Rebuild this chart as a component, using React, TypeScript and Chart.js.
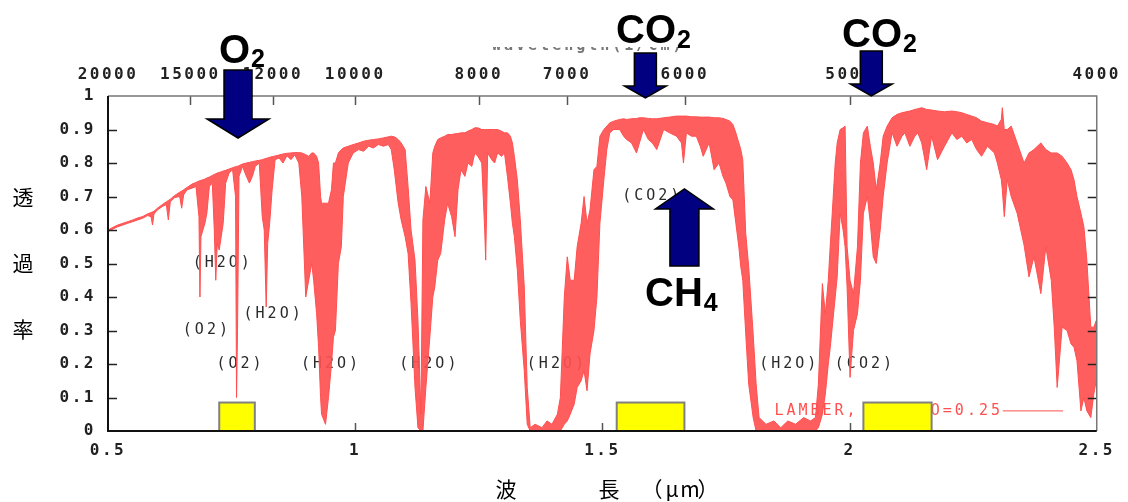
import React, { useEffect, useRef } from "react";
import { Chart, registerables } from "chart.js";

Chart.register(...registerables);

// ---- data (wavelength in µm, transmittance upper / lower envelope of the dense line spectrum) ----
const wavelength = [
  0.500, 0.510, 0.520, 0.530, 0.540, 0.550, 0.560, 0.570, 0.580, 0.587, 0.590, 0.593, 0.600, 0.610, 0.618, 0.622,
  0.626, 0.635, 0.645, 0.649, 0.653, 0.660, 0.670, 0.678, 0.684, 0.686, 0.688, 0.692, 0.696, 0.700, 0.705, 0.711,
  0.715, 0.718, 0.721, 0.725, 0.729, 0.733, 0.738, 0.745, 0.752, 0.758, 0.760, 0.762, 0.765, 0.772, 0.780, 0.786,
  0.792, 0.798, 0.806, 0.812, 0.816, 0.820, 0.823, 0.827, 0.832, 0.838, 0.846, 0.854, 0.862, 0.870, 0.878, 0.886,
  0.892, 0.900, 0.906, 0.912, 0.916, 0.922, 0.926, 0.930, 0.932, 0.940, 0.946, 0.952, 0.956, 0.960, 0.966, 0.972,
  0.976, 0.986,
  0.996, 1.007, 1.017, 1.027, 1.037, 1.047, 1.057, 1.067, 1.073, 1.079, 1.083, 1.087, 1.093, 1.101, 1.107, 1.113,
  1.121, 1.127, 1.133, 1.137, 1.143, 1.151, 1.157, 1.161, 1.167, 1.173, 1.181, 1.187, 1.195, 1.202, 1.208, 1.214,
  1.222, 1.228, 1.236, 1.242, 1.248, 1.256, 1.262, 1.264, 1.268, 1.276, 1.282, 1.288, 1.296, 1.302, 1.308, 1.314,
  1.318, 1.322, 1.328, 1.334, 1.342, 1.348, 1.354, 1.364, 1.378, 1.388, 1.398, 1.409, 1.415, 1.423, 1.429, 1.435,
  1.443, 1.449, 1.457, 1.463, 1.469, 1.475, 1.483, 1.489, 1.495, 1.503, 1.509, 1.515,
  1.523, 1.535, 1.543, 1.549, 1.559, 1.569, 1.575, 1.583, 1.593, 1.601, 1.610, 1.624, 1.636, 1.650, 1.660, 1.664,
  1.670, 1.680, 1.690, 1.698, 1.704, 1.716, 1.726, 1.736, 1.744, 1.750, 1.758, 1.764, 1.770, 1.776, 1.780, 1.784,
  1.790, 1.796, 1.805, 1.811, 1.817, 1.831, 1.847, 1.861, 1.875, 1.891, 1.907, 1.921, 1.931, 1.937, 1.945, 1.951,
  1.957, 1.961, 1.965, 1.971, 1.975, 1.981, 1.987, 1.991, 1.995, 2.001, 2.008, 2.016, 2.022, 2.028, 2.036, 2.042,
  2.048, 2.054, 2.062, 2.068, 2.076,
  2.086, 2.096, 2.106, 2.112, 2.122, 2.132, 2.138, 2.146, 2.156, 2.166, 2.178, 2.192, 2.207, 2.217, 2.227, 2.237,
  2.247, 2.257, 2.267, 2.279, 2.293, 2.299, 2.307, 2.309, 2.313, 2.319, 2.327, 2.339, 2.353, 2.363, 2.373, 2.387,
  2.397, 2.408, 2.414, 2.420, 2.430, 2.440, 2.448, 2.454, 2.460, 2.468, 2.474, 2.480, 2.488, 2.494, 2.499,
];

const upperT = [
  0.600, 0.608, 0.615, 0.620, 0.625, 0.630, 0.636, 0.640, 0.648, 0.652, 0.654, 0.656, 0.665, 0.676, 0.684, 0.688,
  0.692, 0.703, 0.713, 0.716, 0.720, 0.727, 0.737, 0.742, 0.746, 0.747, 0.748, 0.750, 0.752, 0.755, 0.758, 0.763,
  0.766, 0.768, 0.770, 0.772, 0.774, 0.776, 0.778, 0.782, 0.786, 0.789, 0.790, 0.790, 0.792, 0.797, 0.800, 0.802,
  0.804, 0.806, 0.808, 0.810, 0.812, 0.814, 0.815, 0.817, 0.819, 0.821, 0.824, 0.827, 0.829, 0.830, 0.831, 0.831,
  0.830, 0.825, 0.820, 0.830, 0.830, 0.820, 0.800, 0.700, 0.680, 0.680, 0.680, 0.720, 0.800, 0.800, 0.830, 0.840,
  0.845, 0.850,
  0.855, 0.860, 0.865, 0.868, 0.870, 0.872, 0.875, 0.878, 0.880, 0.878, 0.875, 0.870, 0.860, 0.840, 0.730, 0.600,
  0.510, 0.330, 0.050, 0.630, 0.730, 0.680, 0.830, 0.850, 0.870, 0.875, 0.880, 0.885, 0.885, 0.887, 0.888, 0.890,
  0.890, 0.895, 0.900, 0.905, 0.905, 0.900, 0.900, 0.900, 0.900, 0.900, 0.900, 0.900, 0.895, 0.890, 0.890, 0.880,
  0.860, 0.820, 0.750, 0.630, 0.430, 0.130, 0.010, 0.020, 0.010, 0.030, 0.020, 0.050, 0.100, 0.400, 0.520, 0.450,
  0.450, 0.550, 0.620, 0.700, 0.620, 0.660, 0.780, 0.790, 0.880, 0.900, 0.910, 0.920,
  0.925, 0.930, 0.932, 0.930, 0.932, 0.933, 0.935, 0.935, 0.933, 0.932, 0.932, 0.935, 0.937, 0.940, 0.940, 0.940,
  0.940, 0.938, 0.938, 0.937, 0.937, 0.937, 0.935, 0.935, 0.933, 0.930, 0.925, 0.915, 0.890, 0.860, 0.840, 0.810,
  0.590, 0.490, 0.290, 0.140, 0.040, 0.020, 0.030, 0.010, 0.030, 0.020, 0.040, 0.030, 0.040, 0.140, 0.440, 0.350,
  0.450, 0.555, 0.650, 0.800, 0.860, 0.900, 0.905, 0.910, 0.550, 0.450, 0.410, 0.550, 0.800, 0.890, 0.910, 0.850,
  0.800, 0.720, 0.800, 0.880, 0.910,
  0.935, 0.945, 0.950, 0.952, 0.955, 0.960, 0.962, 0.965, 0.960, 0.958, 0.955, 0.953, 0.955, 0.953, 0.950, 0.945,
  0.940, 0.935, 0.925, 0.920, 0.915, 0.910, 0.930, 0.965, 0.900, 0.900, 0.910, 0.860, 0.800, 0.830, 0.840, 0.860,
  0.840, 0.830, 0.830, 0.830, 0.820, 0.800, 0.780, 0.750, 0.700, 0.650, 0.610, 0.510, 0.310, 0.310, 0.330,
];

const lowerT = [
  0.595, 0.603, 0.610, 0.615, 0.620, 0.625, 0.630, 0.635, 0.643, 0.640, 0.615, 0.648, 0.660, 0.670, 0.676, 0.630,
  0.684, 0.697, 0.700, 0.665, 0.705, 0.720, 0.725, 0.730, 0.640, 0.400, 0.580, 0.600, 0.620, 0.650, 0.730, 0.740,
  0.600, 0.450, 0.560, 0.540, 0.580, 0.620, 0.740, 0.770, 0.780, 0.700, 0.100, 0.300, 0.760, 0.790, 0.760, 0.740,
  0.760, 0.790, 0.800, 0.640, 0.600, 0.370, 0.560, 0.620, 0.720, 0.810, 0.815, 0.800, 0.822, 0.810, 0.824, 0.800,
  0.700, 0.400, 0.450, 0.500, 0.450, 0.350, 0.250, 0.100, 0.050, 0.020, 0.100, 0.200, 0.280, 0.300, 0.500, 0.550,
  0.700, 0.800,
  0.830, 0.840, 0.835, 0.850, 0.845, 0.855, 0.850, 0.855, 0.840, 0.780, 0.730, 0.680, 0.630, 0.580, 0.530, 0.380,
  0.130, 0.010, 0.000, 0.000, 0.130, 0.280, 0.400, 0.430, 0.510, 0.530, 0.630, 0.680, 0.640, 0.580, 0.720, 0.780,
  0.760, 0.800, 0.790, 0.830, 0.820, 0.800, 0.600, 0.510, 0.830, 0.810, 0.800, 0.830, 0.820, 0.830, 0.760, 0.680,
  0.620, 0.580, 0.480, 0.330, 0.180, 0.020, 0.000, 0.000, 0.000, 0.000, 0.000, 0.000, 0.000, 0.020, 0.030, 0.050,
  0.080, 0.130, 0.150, 0.180, 0.120, 0.230, 0.300, 0.400, 0.620, 0.750, 0.840, 0.890,
  0.900, 0.900, 0.880, 0.870, 0.860, 0.830, 0.860, 0.900, 0.870, 0.860, 0.840, 0.900, 0.890, 0.880, 0.860, 0.800,
  0.890, 0.880, 0.880, 0.850, 0.820, 0.860, 0.780, 0.800, 0.760, 0.740, 0.700, 0.690, 0.620, 0.550, 0.490, 0.450,
  0.290, 0.140, 0.040, 0.000, 0.000, 0.000, 0.000, 0.000, 0.000, 0.000, 0.000, 0.000, 0.000, 0.010, 0.050, 0.110,
  0.200, 0.250, 0.310, 0.400, 0.460, 0.650, 0.600, 0.550, 0.430, 0.160, 0.300, 0.350, 0.450, 0.650, 0.700, 0.620,
  0.520, 0.500, 0.600, 0.700, 0.800,
  0.890, 0.850, 0.880, 0.890, 0.850, 0.880, 0.890, 0.860, 0.780, 0.880, 0.810, 0.850, 0.890, 0.870, 0.880, 0.860,
  0.870, 0.840, 0.820, 0.850, 0.830, 0.800, 0.750, 0.720, 0.640, 0.750, 0.700, 0.650, 0.555, 0.460, 0.520, 0.410,
  0.550, 0.450, 0.310, 0.130, 0.310, 0.300, 0.260, 0.250, 0.210, 0.060, 0.100, 0.060, 0.040, 0.110, 0.150,
];

const xTicks = [0.5, 1, 1.5, 2, 2.5];
const xTickLabels = ["0.5", "1", "1.5", "2", "2.5"];
const yTicks = [0, 0.1, 0.2, 0.3, 0.4, 0.5, 0.6, 0.7, 0.8, 0.9, 1];
const yTickLabels = ["0", "0.1", "0.2", "0.3", "0.4", "0.5", "0.6", "0.7", "0.8", "0.9", "1"];
const wavenumberTicks = [20000, 15000, 12000, 10000, 8000, 7000, 6000, 5000, 4000];

// observation bands (yellow boxes)
const bandStart = [0.725, 1.529, 2.028];
const bandEnd = [0.797, 1.666, 2.166];
const bandTop = [0.085, 0.085, 0.085];

// absorber annotations inside the plot
const gasLabels = ["(H2O)", "(H2O)", "(O2)", "(O2)", "(H2O)", "(H2O)", "(H2O)", "(CO2)", "(H2O)", "(CO2)"];
const gasLabelX = [0.729, 0.832, 0.697, 0.765, 0.948, 1.147, 1.405, 1.598, 1.875, 2.028];
const gasLabelY = [0.5, 0.35, 0.3, 0.2, 0.2, 0.2, 0.2, 0.7, 0.2, 0.2];

const legendText = "LAMBER, ALBEDO=0.25";
const topAxisTitle = "wavelength(1/cm)";

const RED = "#ff5050";
const RED_FILL = "rgba(255, 80, 80, 0.92)";
const NAVY = "#000080";
const MONO = "'DejaVu Sans Mono', 'Liberation Mono', monospace";
const CJK = "'Noto Sans CJK JP', 'Noto Sans CJK SC', sans-serif";
const SANS = "'Liberation Sans', Arial, sans-serif";

// big arrows: x = wavelength, vertical geometry in canvas pixels
const arrows = [
  { gas: "O", sub: "2", x: 0.763, tail: 70, headBase: 119, tip: 138, shaft: 14, head: 31, textX: 219, textY: 63, subDy: 4 },
  { gas: "CO", sub: "2", x: 1.587, tail: 53, headBase: 86, tip: 98, shaft: 11, head: 21, textX: 616, textY: 43, subDy: 5 },
  { gas: "CO", sub: "2", x: 2.044, tail: 51, headBase: 84, tip: 96, shaft: 11, head: 21, textX: 842, textY: 47, subDy: 5 },
  { gas: "CH", sub: "4", x: 1.666, tail: 266, headBase: 209, tip: 189, shaft: 14.5, head: 29, textX: 645, textY: 306, subDy: 5 },
];

function drawArrow(ctx: CanvasRenderingContext2D, cx: number, a: any) {
  ctx.beginPath();
  ctx.moveTo(cx - a.shaft, a.tail);
  ctx.lineTo(cx + a.shaft, a.tail);
  ctx.lineTo(cx + a.shaft, a.headBase);
  ctx.lineTo(cx + a.head, a.headBase);
  ctx.lineTo(cx, a.tip);
  ctx.lineTo(cx - a.head, a.headBase);
  ctx.lineTo(cx - a.shaft, a.headBase);
  ctx.closePath();
  ctx.fillStyle = NAVY;
  ctx.fill();
  ctx.lineWidth = 1.5;
  ctx.strokeStyle = "#000";
  ctx.stroke();
}

export default function App() {
  const ref = useRef<HTMLCanvasElement>(null);

  useEffect(() => {
    const canvas = ref.current;
    if (!canvas) return;

    const lowerPts = wavelength.map((x, i) => ({ x, y: lowerT[i] }));
    const upperPts = wavelength.map((x, i) => ({ x, y: upperT[i] }));

    const decor = {
      id: "decor",
      beforeDraw(chart: any) {
        chart.ctx.letterSpacing = "2.5px";
      },
      beforeDatasetsDraw(chart: any) {
        const { ctx, scales } = chart;
        ctx.save();
        ctx.letterSpacing = "3px";
        ctx.font = `15px ${MONO}`;
        ctx.textAlign = "center";
        ctx.textBaseline = "middle";
        ctx.fillStyle = "#2a2a2a";
        gasLabels.forEach((t, i) => {
          ctx.fillText(t, scales.x.getPixelForValue(gasLabelX[i]) + 1.5, scales.y.getPixelForValue(gasLabelY[i]));
        });
        // legend
        ctx.fillStyle = RED;
        ctx.textAlign = "left";
        ctx.font = `15px ${MONO}`;
        const lx = scales.x.getPixelForValue(1.848);
        const ly = scales.y.getPixelForValue(0.06);
        ctx.fillText(legendText, lx, ly);
        ctx.strokeStyle = RED;
        ctx.lineWidth = 1;
        ctx.beginPath();
        ctx.moveTo(scales.x.getPixelForValue(2.31), ly);
        ctx.lineTo(scales.x.getPixelForValue(2.432), ly);
        ctx.stroke();
        ctx.restore();
      },
      afterDatasetsDraw(chart: any) {
        const { ctx, scales } = chart;
        ctx.save();
        bandStart.forEach((s, i) => {
          const x0 = scales.x.getPixelForValue(s);
          const x1 = scales.x.getPixelForValue(bandEnd[i]);
          const y0 = scales.y.getPixelForValue(bandTop[i]);
          const y1 = scales.y.getPixelForValue(0);
          ctx.fillStyle = "#ffff00";
          ctx.fillRect(x0, y0, x1 - x0, y1 - y0);
          ctx.strokeStyle = "#808080";
          ctx.lineWidth = 2;
          ctx.strokeRect(x0, y0, x1 - x0, y1 - y0);
        });
        ctx.restore();
      },
      afterDraw(chart: any) {
        const { ctx, chartArea: ca, scales } = chart;
        ctx.save();
        ctx.letterSpacing = "0px";
        // inward ticks
        ctx.lineWidth = 1.5;
        ctx.strokeStyle = "#222";
        yTicks.forEach((v) => {
          if (v === 0 || v === 1) return;
          const y = Math.round(scales.y.getPixelForValue(v)) + 0.5;
          ctx.beginPath();
          ctx.moveTo(ca.left, y);
          ctx.lineTo(ca.left + 9, y);
          ctx.stroke();
          ctx.beginPath();
          ctx.moveTo(ca.right, y);
          ctx.lineTo(ca.right - 9, y);
          ctx.stroke();
        });
        ctx.strokeStyle = "#555";
        wavenumberTicks.forEach((w) => {
          const x = Math.round(scales.x2.getPixelForValue(1e4 / w)) + 0.5;
          if (x <= ca.left + 1 || x >= ca.right - 1) return;
          ctx.beginPath();
          ctx.moveTo(x, ca.top);
          ctx.lineTo(x, ca.top + 9);
          ctx.stroke();
        });
        xTicks.forEach((v) => {
          const x = Math.round(scales.x.getPixelForValue(v)) + 0.5;
          if (x <= ca.left + 1 || x >= ca.right - 1) return;
          ctx.beginPath();
          ctx.moveTo(x, ca.bottom);
          ctx.lineTo(x, ca.bottom - 8);
          ctx.stroke();
        });
        // frame
        ctx.strokeStyle = "#777";
        ctx.lineWidth = 1.5;
        ctx.beginPath();
        ctx.moveTo(ca.left, ca.top);
        ctx.lineTo(ca.right, ca.top);
        ctx.lineTo(ca.right, ca.bottom);
        ctx.stroke();
        ctx.strokeStyle = "#111";
        ctx.lineWidth = 2;
        ctx.beginPath();
        ctx.moveTo(ca.left, ca.top);
        ctx.lineTo(ca.left, ca.bottom);
        ctx.lineTo(ca.right, ca.bottom);
        ctx.stroke();

        // faded top-axis title (upper part hidden)
        ctx.save();
        ctx.beginPath();
        ctx.rect(400, 47, 400, 10);
        ctx.clip();
        ctx.letterSpacing = "3px";
        ctx.font = `bold 15px ${MONO}`;
        ctx.fillStyle = "#777";
        ctx.textAlign = "left";
        ctx.textBaseline = "alphabetic";
        ctx.fillText(topAxisTitle, 492, 50);
        ctx.restore();

        // arrows and gas names
        arrows.forEach((a) => {
          drawArrow(ctx, scales.x.getPixelForValue(a.x), a);
        });
        ctx.fillStyle = "#000";
        ctx.textAlign = "left";
        ctx.textBaseline = "alphabetic";
        arrows.forEach((a) => {
          ctx.font = `bold 40px ${SANS}`;
          ctx.fillText(a.gas, a.textX, a.textY);
          const w = ctx.measureText(a.gas).width;
          ctx.font = `bold 25px ${SANS}`;
          ctx.fillText(a.sub, a.textX + w + 1, a.textY + a.subDy);
        });

        // axis titles
        ctx.font = `21px ${CJK}`;
        ctx.textAlign = "center";
        ctx.textBaseline = "middle";
        ctx.fillStyle = "#000";
        [["透", 197], ["過", 263], ["率", 329]].forEach(([t, y]) => {
          ctx.fillText(t as string, 23, y as number);
        });
        [["波", 506], ["長", 609], ["（", 652], ["μ", 672], ["m", 690], ["）", 708]].forEach(([t, x]) => {
          ctx.fillText(t as string, x as number, 489);
        });
        ctx.restore();
      },
    };

    const tickFont = { family: "DejaVu Sans Mono", size: 16, weight: "bold" as const };

    const chart = new Chart(canvas, {
      type: "scatter",
      data: {
        datasets: [
          {
            label: "lower",
            data: lowerPts,
            showLine: true,
            borderColor: RED,
            borderWidth: 1,
            pointRadius: 0,
            fill: false,
            tension: 0,
          },
          {
            label: "upper",
            data: upperPts,
            showLine: true,
            borderColor: RED,
            borderWidth: 1,
            pointRadius: 0,
            backgroundColor: RED_FILL,
            fill: "-1",
            tension: 0,
          },
        ],
      },
      options: {
        animation: false,
        responsive: false,
        devicePixelRatio: 1,
        layout: { padding: 0 },
        plugins: { legend: { display: false }, tooltip: { enabled: false } },
        scales: {
          x: {
            type: "linear",
            position: "bottom",
            min: 0.5,
            max: 2.5,
            afterBuildTicks: (s: any) => {
              s.ticks = xTicks.map((v) => ({ value: v }));
            },
            afterFit: (s: any) => {
              s.height = 71;
            },
            ticks: {
              callback: (_v: any, i: number) => xTickLabels[i],
              font: tickFont,
              color: "#222",
              padding: 10,
              maxRotation: 0,
              autoSkip: false,
            },
            grid: { display: false, drawTicks: false },
            border: { display: false },
          },
          x2: {
            type: "linear",
            position: "top",
            min: 0.5,
            max: 2.5,
            afterBuildTicks: (s: any) => {
              s.ticks = wavenumberTicks.map((w) => ({ value: 1e4 / w }));
            },
            afterFit: (s: any) => {
              s.height = 96;
            },
            ticks: {
              callback: (_v: any, i: number) => String(wavenumberTicks[i]),
              font: tickFont,
              color: "#222",
              padding: 12,
              maxRotation: 0,
              autoSkip: false,
            },
            grid: { display: false, drawTicks: false },
            border: { display: false },
          },
          y: {
            type: "linear",
            position: "left",
            min: 0,
            max: 1,
            afterBuildTicks: (s: any) => {
              s.ticks = yTicks.map((v) => ({ value: v }));
            },
            afterFit: (s: any) => {
              s.width = 108;
            },
            ticks: {
              callback: (_v: any, i: number) => yTickLabels[i],
              font: tickFont,
              color: "#222",
              padding: 12,
              autoSkip: false,
            },
            grid: { display: false, drawTicks: false },
            border: { display: false },
          },
          y2: {
            type: "linear",
            position: "right",
            min: 0,
            max: 1,
            afterFit: (s: any) => {
              s.width = 28;
            },
            ticks: { display: false },
            grid: { display: false, drawTicks: false },
            border: { display: false },
          },
        },
      },
      plugins: [decor],
    });

    return () => chart.destroy();
  }, []);

  return (
    <div style={{ position: "absolute", left: 0, top: 0, width: 1128, height: 502, background: "#fff" }}>
      <canvas ref={ref} width={1128} height={502} style={{ display: "block", width: 1128, height: 502 }} />
    </div>
  );
}
